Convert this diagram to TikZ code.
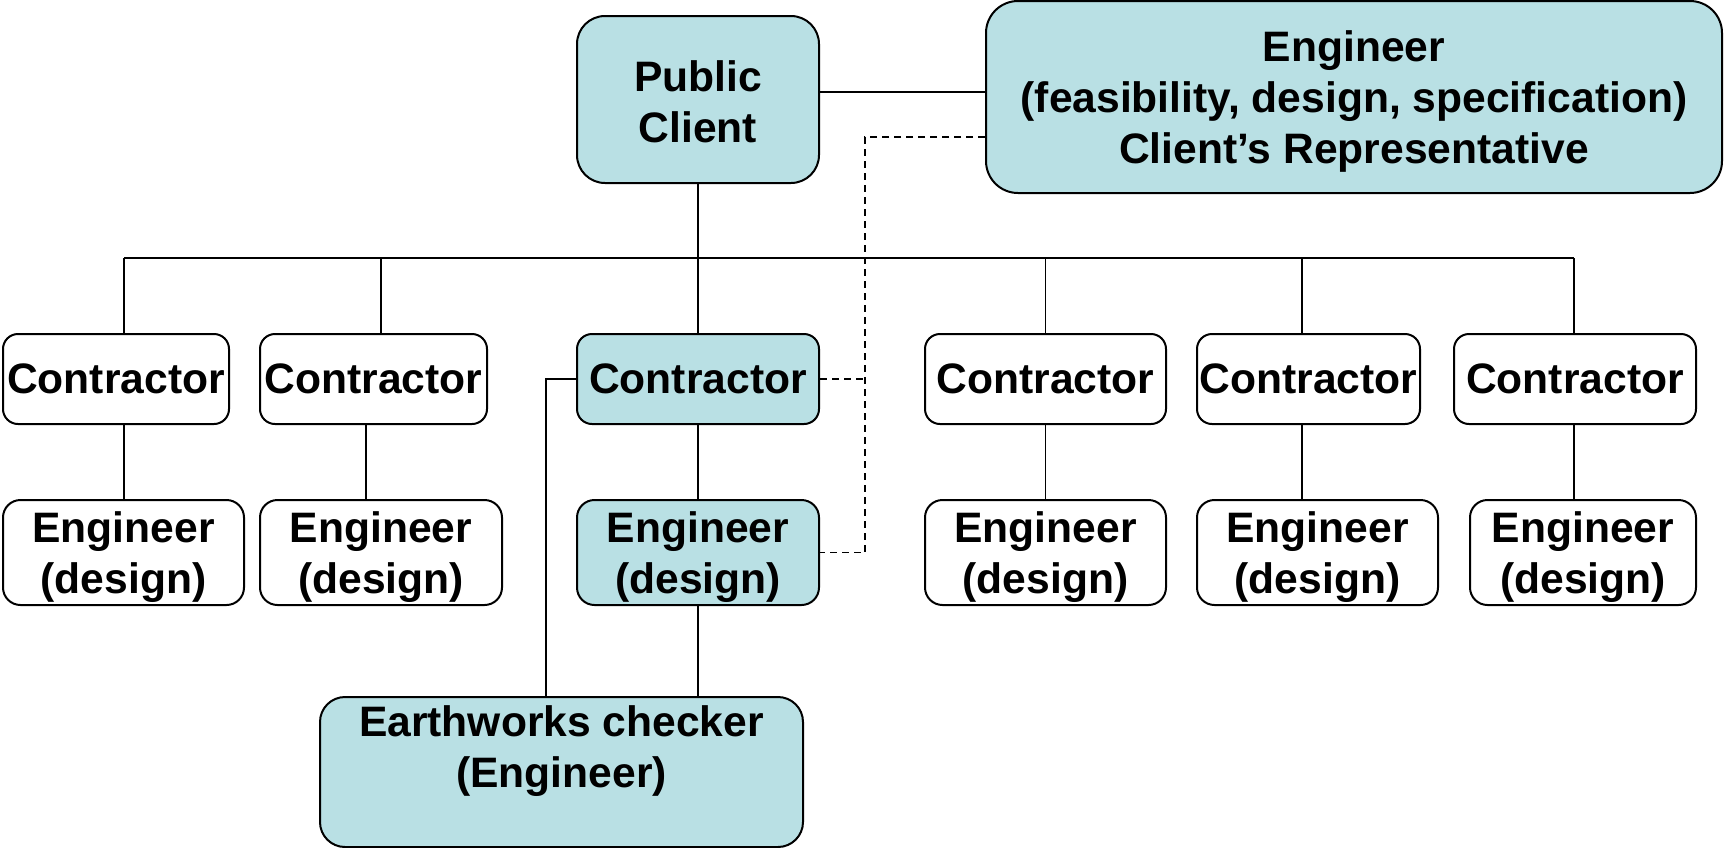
\documentclass[tikz,border=0pt]{standalone}
\usepackage{fontspec}
\setmainfont{Liberation Sans}
\usetikzlibrary{calc,positioning}
\definecolor{paleaqua}{RGB}{185,224,228}
\newcommand{\topgap}[1]{\rule{0pt}{#1}}

\begin{document}
\begin{tikzpicture}[x=0.5pt,y=-0.5pt,
  box/.style={draw,line width=1pt,rounded corners=#1,align=center,inner sep=0pt,
    font=\fontsize{21.3}{25.5}\selectfont\bfseries},
  box/.default=8pt,
  link/.style={line width=0.75pt},
  aside/.style={line width=0.7pt,dash pattern=on 3.5pt off 2.5pt}]
\useasboundingbox (0,0) rectangle (1725,847);
% client and its representative
\node[box=14pt,fill=paleaqua,minimum width=121pt,minimum height=83.5pt] (client) at (698,99.5)
  {\topgap{17.6pt}Public\\Client};
\node[box=16pt,fill=paleaqua,minimum width=368pt,minimum height=96pt] (rep) at (1354,97)
  {\topgap{20.3pt}Engineer\\(feasibility, design, specification)\\Client’s Representative};
% contractors with their design engineers (\dt, \db: where the links meet them)
\foreach \i/\xc/\wc/\xe/\we/\dt/\db/\f in {1/116/113/123.5/120.5/4/4/white,
    2/373.5/113.5/381/121/3.75/-3.75/white, 3/698/121/698/121/0/0/paleaqua,
    4/1045.5/120.5/1045.5/120.5/0/0/white, 5/1308.5/111.5/1317.5/120.5/-3.25/-3.25/white,
    6/1575/121/1583/113/-0.5/-0.5/white}{
  \node[box=7.5pt,fill=\f,minimum width=\wc pt,minimum height=45pt] (c\i) at (\xc,379) {Contractor};
  \node[box=8.75pt,fill=\f,minimum width=\we pt,minimum height=52.5pt] (e\i) at (\xe,552.5)
    {\topgap{20pt}Engineer\\(design)};
  \coordinate (t\i) at ([xshift=\dt pt]c\i.north);
  \coordinate (b\i) at ([xshift=\db pt]c\i.south);
}
% checker below the shaded chain
\node[box=12.5pt,fill=paleaqua,minimum width=241.5pt,minimum height=75pt] (earth) at (561.5,772)
  {Earthworks checker\\(Engineer)\\\mbox{}};
% solid links
\coordinate (bus) at (0,258);
\draw[link] ([yshift=3.75pt]client.east) -- ([yshift=3.75pt]client.east -| rep.west);
\draw[link] (client) -- (client |- bus);
\draw[link] (t1 |- bus) -- (t6 |- bus);
\foreach \i in {1,...,6} {
  \draw[link] (t\i |- bus) -- (t\i);
  \draw[link] (b\i) -- (b\i |- e\i.north);
}
\draw[link] (e3) -- (e3 |- earth.north);
\draw[link] (c3.west) -- ++(-30,0) coordinate (tap) -- (tap |- earth.north);
% dashed links to the representative
\draw[aside] ([yshift=-20pt]rep.west) -| ([xshift=22.5pt]e3.east) -- (e3.east);
\draw[aside] (c3.east) -- ++(45,0);
\end{tikzpicture}
\end{document}
